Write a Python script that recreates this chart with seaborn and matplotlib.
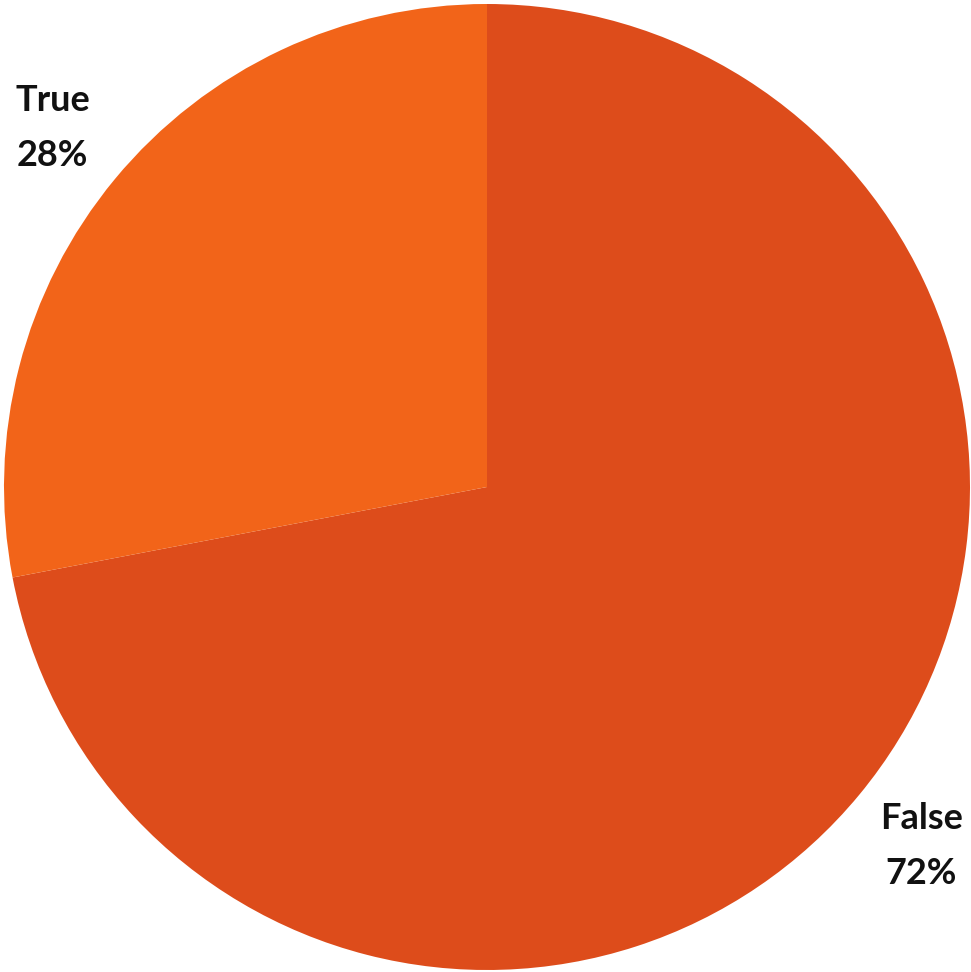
import matplotlib
matplotlib.use("Agg")
import matplotlib.pyplot as plt
import seaborn as sns

# --- DATA ---
categories = ["False", "True"]
shares = [72, 28]
colors = ["#DD4C1B", "#F26419"]

sns.set_theme(style="white")
plt.rcParams['font.family'] = ['Lato', 'DejaVu Sans']

fig = plt.figure(figsize=(9.71, 9.72), dpi=100)
ax = fig.add_axes([4 / 971, 2 / 972, 966 / 971, 966 / 972])

labels = [f"{c}\n{s}%" for c, s in zip(categories, shares)]
wedges, texts = ax.pie(
    shares,
    labels=labels,
    colors=colors,
    startangle=90,
    counterclock=False,
    labeldistance=1.167,
    radius=1,
    wedgeprops=dict(linewidth=0),
    textprops=dict(fontsize=26, fontweight="bold", color="#111111", linespacing=1.8),
)
for t in texts:
    t.set_ha("center")
    t.set_va("center")

ax.set_xlim(-1, 1)
ax.set_ylim(-1, 1)
ax.set_aspect("equal")
ax.axis("off")

fig.savefig("out.png", dpi=100)
